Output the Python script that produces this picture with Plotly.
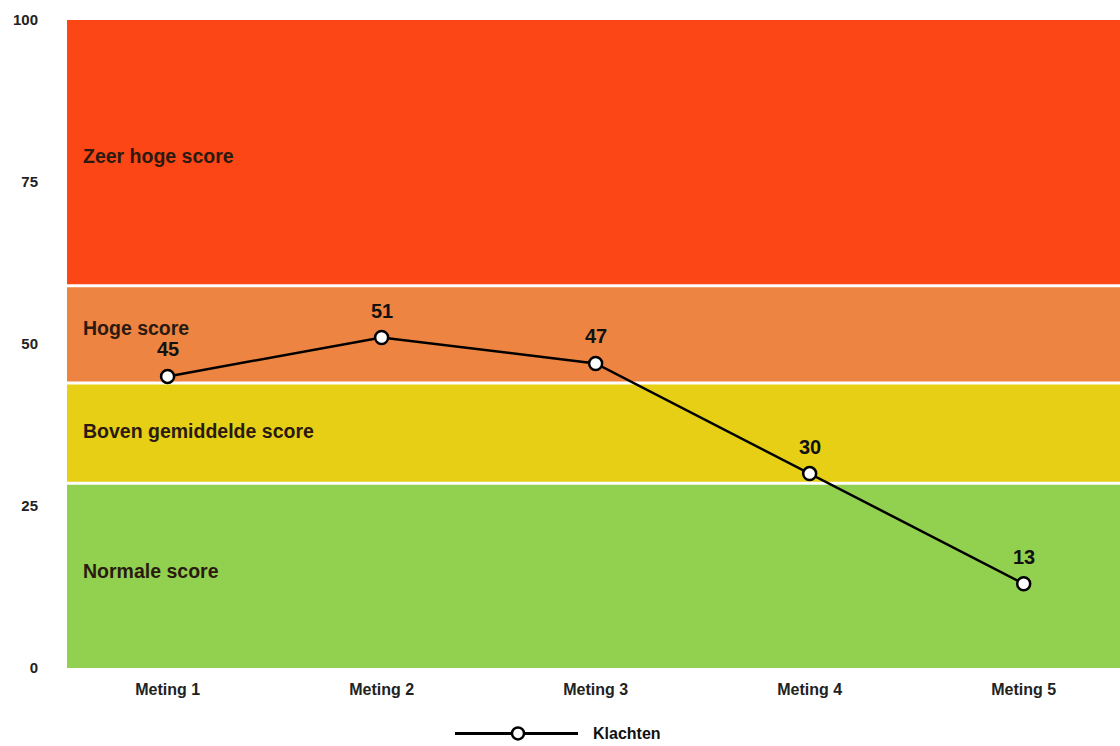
import plotly.graph_objects as go

# Measurements and scores
metingen = ["Meting 1", "Meting 2", "Meting 3", "Meting 4", "Meting 5"]
klachten = [45, 51, 47, 30, 13]

# Score bands: label, lower bound, upper bound, colour, label height
band_labels = ["Normale score", "Boven gemiddelde score", "Hoge score", "Zeer hoge score"]
band_lower = [0, 28.5, 44, 59]
band_upper = [28.5, 44, 59, 100]
band_colors = ["#92D050", "#E6CF14", "#EE8441", "#FC4616"]
band_label_y = [15, 36.5, 52.5, 79]

y_ticks = [0, 25, 50, 75, 100]

FONT = "Arial, Liberation Sans, sans-serif"
TXT = "#222222"

fig = go.Figure()

fig.add_trace(go.Scatter(
    x=metingen,
    y=klachten,
    mode="lines+markers",
    name="Klachten",
    line=dict(color="black", width=2.5),
    marker=dict(size=13, color="white", line=dict(color="black", width=2.5)),
    showlegend=False,
    cliponaxis=False,
))

shapes = []
annotations = []
for lbl, lo, hi, col, ly in zip(band_labels, band_lower, band_upper, band_colors, band_label_y):
    shapes.append(dict(type="rect", xref="paper", yref="y", x0=0, x1=1, y0=lo, y1=hi,
                       fillcolor=col, line=dict(width=0), layer="below"))
    annotations.append(dict(xref="paper", yref="y", x=0.0135, y=ly, text=f"<b>{lbl}</b>",
                            showarrow=False, xanchor="left", yanchor="middle",
                            font=dict(family=FONT, size=19.5, color="#2a1a10")))

# white separators between bands
for b in band_lower[1:]:
    shapes.append(dict(type="line", xref="paper", yref="y", x0=0, x1=1, y0=b, y1=b,
                       line=dict(color="white", width=3), layer="below"))

# value labels above the points
for m, v in zip(metingen, klachten):
    annotations.append(dict(x=m, y=v, text=f"<b>{v}</b>", showarrow=False,
                            xanchor="center", yanchor="middle", yshift=27,
                            font=dict(family=FONT, size=20, color="#111111")))

# legend drawn beneath the plot
shapes.append(dict(type="line", xref="paper", yref="paper",
                   x0=(455 - 67) / 1053, x1=(578 - 67) / 1053, y0=-0.101, y1=-0.101,
                   line=dict(color="black", width=3)))
shapes.append(dict(type="circle", xref="paper", yref="paper",
                   x0=(512 - 67) / 1053, x1=(524 - 67) / 1053,
                   y0=-0.101 - 6 / 648, y1=-0.101 + 6 / 648,
                   fillcolor="white", line=dict(color="black", width=2.5)))
annotations.append(dict(xref="paper", yref="paper", x=(591 - 67) / 1053, y=-0.101,
                        text="<b>Klachten</b>", showarrow=False, xanchor="left", yanchor="middle",
                        font=dict(family=FONT, size=16, color="#111111")))

fig.update_layout(
    width=1120,
    height=746,
    margin=dict(l=67, r=0, t=20, b=78),
    paper_bgcolor="white",
    plot_bgcolor="white",
    shapes=shapes,
    annotations=annotations,
    font=dict(family=FONT, color=TXT),
)

fig.update_xaxes(
    type="category",
    range=[-0.47, 4.45],
    showgrid=False,
    zeroline=False,
    showline=False,
    ticks="",
    ticklabelstandoff=10,
    tickfont=dict(family=FONT, size=16, color=TXT, weight="bold"),
)
fig.update_yaxes(
    range=[0, 100],
    tickvals=y_ticks,
    showgrid=False,
    zeroline=False,
    showline=False,
    ticks="",
    ticklabelstandoff=28,
    tickfont=dict(family=FONT, size=15, color=TXT, weight="bold"),
)

fig.write_html("out.html")
